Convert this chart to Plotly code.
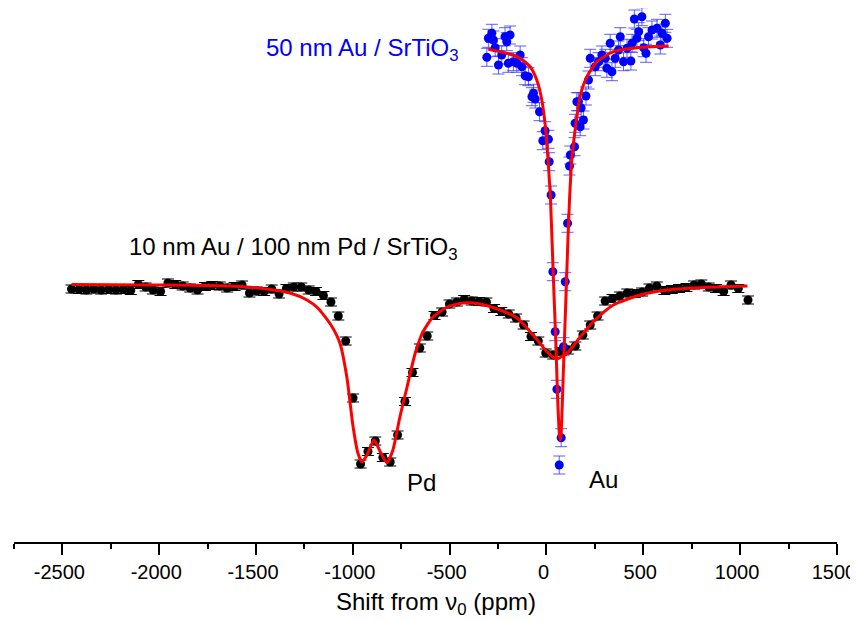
import plotly.graph_objects as go

# ---- 10 nm Au / 100 nm Pd / SrTiO3 (black) : shift (ppm), signal (a.u.)
pd_shift = [-2453, -2414, -2376, -2338, -2300, -2261, -2223, -2185, -2147, -2108,
            -2070, -2032, -1993, -1955, -1917, -1879, -1840, -1802, -1764, -1726,
            -1687, -1649, -1611, -1572, -1534, -1496, -1458, -1419, -1381, -1343,
            -1305, -1266, -1228, -1190, -1152, -1113, -1075, -1037, -999, -960,
            -922, -884, -845, -807, -769, -731, -692, -654, -616, -578,
            -539, -501, -463, -425, -386, -348, -310, -271, -233, -195,
            -157, -118, -80, -42, -4, 35, 73, 111, 149, 188,
            226, 264, 303, 341, 379, 417, 456, 494, 532, 570,
            609, 647, 685, 723, 762, 800, 838, 876, 915, 953,
            991, 1041]
pd_signal = [253, 252.5, 252, 253, 252, 252.5, 252, 252.5, 251.5, 257.5,
             255, 252, 250.5, 259, 257.5, 256, 254, 252, 255.5, 256.5,
             256, 254, 255.5, 257, 249, 251, 250.5, 253, 248, 253.5,
             255, 255, 252, 250.5, 246.5, 240, 226, 201, 144, 78,
             90.5, 101, 84.5, 80, 107, 140.5, 169.5, 194, 206, 226.5,
             230, 238, 240, 242.5, 241, 240.5, 240, 233.5, 230.5, 228,
             224, 217, 205.5, 201, 189, 187, 190.5, 192, 196, 207,
             217, 226, 241, 243.5, 246, 249, 248.5, 250, 254, 256,
             251.5, 252.5, 253.5, 254.5, 257, 258, 255, 253.5, 250.5, 257,
             253.5, 242]
pd_error = 4

pd_fit_shift = [-2453, -2049, -1636, -1465, -1325, -1237, -1181, -1113, -1067, -1031,
                -1000, -974, -953, -927, -891, -855, -824, -793, -757, -720,
                -679, -638, -586, -513, -431, -343, -239, -152, -69, 4,
                50, 107, 174, 241, 345, 485, 624, 831, 1038]
pd_fit_signal = [257.5, 257, 256, 253.5, 249, 242, 234, 217, 199, 165,
                 117, 89, 80, 87, 102, 89, 79, 92, 125, 155,
                 188, 210, 225, 235, 239, 238, 232, 224, 207, 190,
                 183, 189, 205, 220, 237, 247, 252, 254.7, 256]

# ---- 50 nm Au / SrTiO3 (blue)
au_shift = [-308, -300, -282, -274, -265, -248, -231, -214, -205, -197,
            -188, -171, -153, -136, -127, -110, -93, -75, -67, -58,
            -36, -19, -7, 10, 14, 24, 33, 45, 54, 66,
            76, 88, 97, 109, 119, 123, 145, 148, 157, 165,
            174, 179, 191, 204, 217, 226, 252, 269, 286, 304,
            312, 329, 338, 355, 372, 381, 398, 416, 436, 442,
            454, 467, 476, 493, 502, 514, 527, 545, 571, 588,
            597, 614, 623]
au_signal = [484.7, 503.7, 508.7, 502, 494.3, 477, 487, 505.3, 500.3, 478.7,
             507, 480.3, 478.7, 487, 475.3, 466.3, 465.3, 445.3, 448.7, 443,
             430.3, 401.3, 411.3, 402.7, 380.3, 347, 270.3, 210.3, 152.7, 77,
             104.3, 195.3, 260.3, 318.7, 376, 387, 395.3, 418.7, 440.3, 440.3,
             415.3, 434, 422, 446, 462, 483.7, 475.3, 480.3, 487, 483.7,
             473.7, 498.7, 470.3, 483.7, 492, 505.3, 480.3, 493.7, 481, 498.7,
             523, 503.7, 510.3, 525.3, 494.3, 488.7, 505.3, 512, 513.7, 497,
             508.7, 518.7, 503.7]
au_error = 9

au_fit_shift = [-300, -205, -136, -84, -50, -27, -7, 10, 21, 36,
                48, 58, 67, 72, 76, 88, 97, 102, 109, 119,
                131, 148, 174, 209, 261, 346, 467, 631]
au_fit_signal = [492.7, 488.7, 483.7, 475.3, 462, 445, 418, 377, 342, 262,
                 202, 142, 107, 102, 109, 175, 225, 252, 292, 342,
                 382, 412, 446, 465.3, 480.3, 490.3, 494.3, 496]

x_ticks = [-2500, -2000, -1500, -1000, -500, 0, 500, 1000, 1500]
x_tick_labels = ["-2500", "-2000", "-1500", "-1000", "-500", "0", "500", "1000", "1500"]

FONT = "Arial, 'Liberation Sans', sans-serif"
PLOT_W = 823.0
PLOT_H = 534.0

fig = go.Figure()

fig.add_trace(go.Scatter(
    x=pd_shift, y=pd_signal, mode="markers",
    marker=dict(color="black", size=9),
    error_y=dict(type="constant", value=pd_error, color="black", thickness=1, width=6),
    cliponaxis=False, showlegend=False))

fig.add_trace(go.Scatter(
    x=au_shift, y=au_signal, mode="markers",
    marker=dict(color="#0000ff", size=9),
    error_y=dict(type="constant", value=au_error, color="rgba(40,40,255,0.75)", thickness=1, width=6),
    cliponaxis=False, showlegend=False))

fig.add_trace(go.Scatter(
    x=pd_fit_shift, y=pd_fit_signal, mode="lines",
    line=dict(color="#ff0000", width=3, shape="spline", smoothing=0.6),
    showlegend=False))

fig.add_trace(go.Scatter(
    x=au_fit_shift, y=au_fit_signal, mode="lines",
    line=dict(color="#ff0000", width=3, shape="spline", smoothing=0.6),
    showlegend=False))


def ann(text, px, py, size, color="black", anchor="left"):
    return dict(text=text, xref="paper", yref="paper",
                x=(px - 14) / PLOT_W, y=(542 - py) / PLOT_H, showarrow=False,
                xanchor=anchor, yanchor="middle",
                font=dict(family=FONT, size=size, color=color))


fig.update_layout(
    width=850, height=613,
    margin=dict(l=6, r=21, t=0, b=79, autoexpand=False),
    paper_bgcolor="white", plot_bgcolor="white",
    font=dict(family=FONT, size=20, color="black"),
    xaxis=dict(
        range=[-2750, 1500.5], showgrid=False, zeroline=False,
        showline=True, linecolor="black", linewidth=2,
        ticks="outside", ticklen=11, tickwidth=2, tickcolor="black",
        tickvals=x_ticks, ticktext=x_tick_labels,
        tickfont=dict(family=FONT, size=20, color="black"),
        ticklabeloverflow="allow", ticklabelshift=-3,
        automargin=False,
        minor=dict(ticks="outside", ticklen=5, tickwidth=2, tickcolor="black", dtick=250,
                   tick0=0, showgrid=False),
    ),
    yaxis=dict(range=[0, PLOT_H], visible=False, showgrid=False, zeroline=False),
    annotations=[
        ann("Shift from ν<sub>0</sub> (ppm)", 436, 603, 24, anchor="center"),
        ann("50 nm Au / SrTiO<sub>3</sub>", 264, 50, 24, color="#0000ff"),
        ann("10 nm Au / 100 nm Pd / SrTiO<sub>3</sub>", 127, 248, 24),
        ann("Pd", 405, 482, 24),
        ann("Au", 587, 480, 24),
    ],
)

fig.write_html("out.html")
